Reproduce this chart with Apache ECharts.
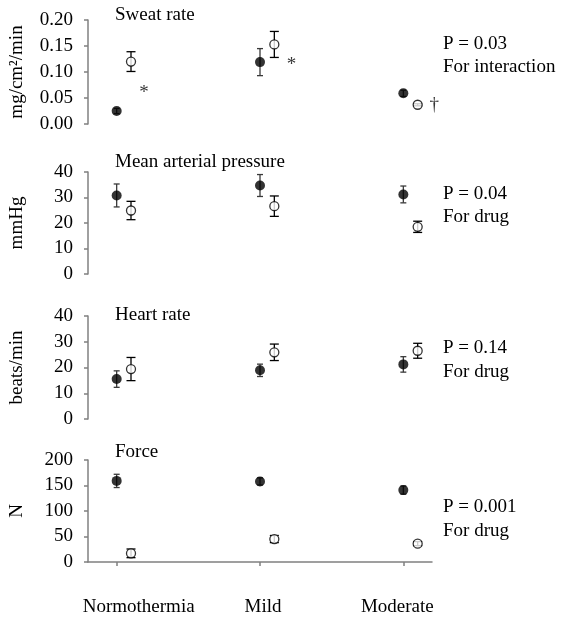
<!DOCTYPE html>
<html>
<head>
<meta charset="utf-8">
<script src="https://cdn.jsdelivr.net/npm/echarts@6/dist/echarts.min.js"></script>
<style>html,body{margin:0;padding:0;background:#fff}#c{width:562px;height:619px}</style>
</head>
<body>
<div id="c"></div>
<script>
// ---- data ----
const categories = ['Normothermia', 'Mild', 'Moderate'];
const panelTitles = ['Sweat rate', 'Mean arterial pressure', 'Heart rate', 'Force'];
const yNames = ['mg/cm\u00B2/min', 'mmHg', 'beats/min', 'N'];
const pValues = ['P = 0.03', 'P = 0.04', 'P = 0.14', 'P = 0.001'];
const pEffects = ['For interaction', 'For drug', 'For drug', 'For drug'];
const yMax = [0.20, 40, 40, 200];
const yStep = [0.05, 10, 10, 50];

const sweatFilled = [0.025, 0.119, 0.059];
const sweatFilledErr = [0.005, 0.026, 0.006];
const sweatOpen = [0.120, 0.153, 0.037];
const sweatOpenErr = [0.019, 0.025, 0.002];

const mapFilled = [30.8, 34.7, 31.2];
const mapFilledErr = [4.5, 4.3, 3.3];
const mapOpen = [24.9, 26.6, 18.5];
const mapOpenErr = [3.6, 4.0, 2.2];

const hrFilled = [15.5, 18.9, 21.2];
const hrFilledErr = [3.2, 2.4, 3.0];
const hrOpen = [19.4, 25.9, 26.5];
const hrOpenErr = [4.5, 3.2, 2.9];

const forceFilled = [159, 158, 141];
const forceFilledErr = [13, 7, 8];
const forceOpen = [17, 45, 36];
const forceOpenErr = [8.5, 7, 4];

// significance marks in sweat-rate panel: [x position on category scale, y value, symbol]
const sweatMarks = [[1.19, 0.059, '*'], [2.22, 0.114, '*'], [3.215, 0.037, '\u2020']];

// ---- chart ----
const FONT = '"Liberation Serif","Times New Roman",serif';
const panels = [
  [sweatFilled, sweatFilledErr, sweatOpen, sweatOpenErr],
  [mapFilled, mapFilledErr, mapOpen, mapOpenErr],
  [hrFilled, hrFilledErr, hrOpen, hrOpenErr],
  [forceFilled, forceFilledErr, forceOpen, forceOpenErr]
];
const OPEN_SHIFT = 0.1;
const gridTops = [20, 172, 316, 460];
const gridHeights = [104, 102, 103, 102];
const pTops = [32, 182, 336.5, 495.5];
const titleYs = [15.5, 162.5, 315.5, 452.5];

const axisGray = '#808080';

function errRender(color, halfCap) {
  return function (params, api) {
    const x = api.value(0), y = api.value(1), e = api.value(2);
    const t = api.coord([x, y + e]);
    const b = api.coord([x, y - e]);
    const st = { stroke: color, lineWidth: 1.3 };
    return {
      type: 'group',
      children: [
        { type: 'line', shape: { x1: t[0], y1: t[1], x2: b[0], y2: b[1] }, style: st },
        { type: 'line', shape: { x1: t[0] - halfCap, y1: t[1], x2: t[0] + halfCap, y2: t[1] }, style: st },
        { type: 'line', shape: { x1: b[0] - halfCap, y1: b[1], x2: b[0] + halfCap, y2: b[1] }, style: st }
      ]
    };
  };
}

const grid = [], xAxis = [], yAxis = [], series = [], graphic = [];
panels.forEach((p, i) => {
  grid.push({ left: 86, width: 346, top: gridTops[i], height: gridHeights[i] });
  const last = i === 3;
  xAxis.push({
    gridIndex: i, type: 'value', min: 0.8, max: 3.2, show: last,
    offset: last ? 22 : 0,
    splitLine: { show: false },
    axisLine: { show: true, lineStyle: { color: axisGray, width: 1.5 } },
    axisTick: { show: true, length: 4, customValues: [1, 2, 3], lineStyle: { color: axisGray, width: 1.5 } },
    axisLabel: {
      customValues: [1, 2, 3], margin: 14,
      fontSize: 19, fontFamily: FONT, color: '#000',
      formatter: v => { const k = Math.round(v) - 1; return '{c' + k + '|' + categories[k] + '}'; },
      rich: {
        c0: { fontSize: 19, fontFamily: FONT, color: '#000', padding: [0, 0, 0, 44] },
        c1: { fontSize: 19, fontFamily: FONT, color: '#000', padding: [0, 0, 0, 6] },
        c2: { fontSize: 19, fontFamily: FONT, color: '#000', padding: [0, 12, 0, 0] }
      }
    }
  });
  yAxis.push({
    gridIndex: i, type: 'value', min: 0, max: yMax[i], interval: yStep[i],
    splitLine: { show: false },
    axisLine: { show: true, lineStyle: { color: axisGray, width: 1.5 } },
    axisTick: { show: true, length: 4, lineStyle: { color: axisGray, width: 1.5 } },
    axisLabel: {
      fontSize: 19, fontFamily: FONT, color: '#000', margin: 15,
      formatter: v => i === 0 ? v.toFixed(2) : String(Math.round(v))
    },
    name: yNames[i], nameLocation: 'middle', nameGap: 61,
    nameTextStyle: { fontSize: 19, fontFamily: FONT, color: '#000' }
  });
  const [f, fe, o, oe] = p;
  series.push({
    type: 'custom', xAxisIndex: i, yAxisIndex: i, z: 2,
    renderItem: errRender('#3a3a3a', 3),
    data: f.map((v, k) => [k + 1, v, fe[k]])
  });
  series.push({
    type: 'custom', xAxisIndex: i, yAxisIndex: i, z: 2,
    renderItem: errRender('#000', 4.5),
    data: o.map((v, k) => [k + 1 + OPEN_SHIFT, v, oe[k]])
  });
  series.push({
    type: 'scatter', xAxisIndex: i, yAxisIndex: i, z: 5,
    symbol: 'circle', symbolSize: 10,
    itemStyle: { color: '#000' },
    data: f.map((v, k) => [k + 1, v])
  });
  series.push({
    type: 'scatter', xAxisIndex: i, yAxisIndex: i, z: 5,
    symbol: 'circle', symbolSize: 9,
    itemStyle: { color: '#fff', borderColor: '#000', borderWidth: 1.3 },
    data: o.map((v, k) => [k + 1 + OPEN_SHIFT, v])
  });
  graphic.push({
    type: 'text', x: 115, y: titleYs[i],
    style: { text: panelTitles[i], font: '19px ' + FONT, fill: '#000', verticalAlign: 'middle', align: 'left' }
  });
  graphic.push({
    type: 'text', x: 443, y: pTops[i],
    style: { text: pValues[i] + '\n' + pEffects[i], font: '19px ' + FONT, fill: '#000', lineHeight: 23.4, verticalAlign: 'top', align: 'left' }
  });
});

series.push({
  type: 'scatter', xAxisIndex: 0, yAxisIndex: 0, z: 6,
  symbolSize: 1, itemStyle: { color: 'rgba(0,0,0,0)' },
  clip: false,
  label: {
    show: true, position: 'inside', fontSize: 19, fontFamily: FONT, color: '#000',
    formatter: d => d.data[2]
  },
  data: sweatMarks
});

const chart = echarts.init(document.getElementById('c'), null, { renderer: 'canvas' });
chart.setOption({
  animation: false,
  backgroundColor: '#fff',
  grid, xAxis, yAxis, series, graphic
});
</script>
</body>
</html>
